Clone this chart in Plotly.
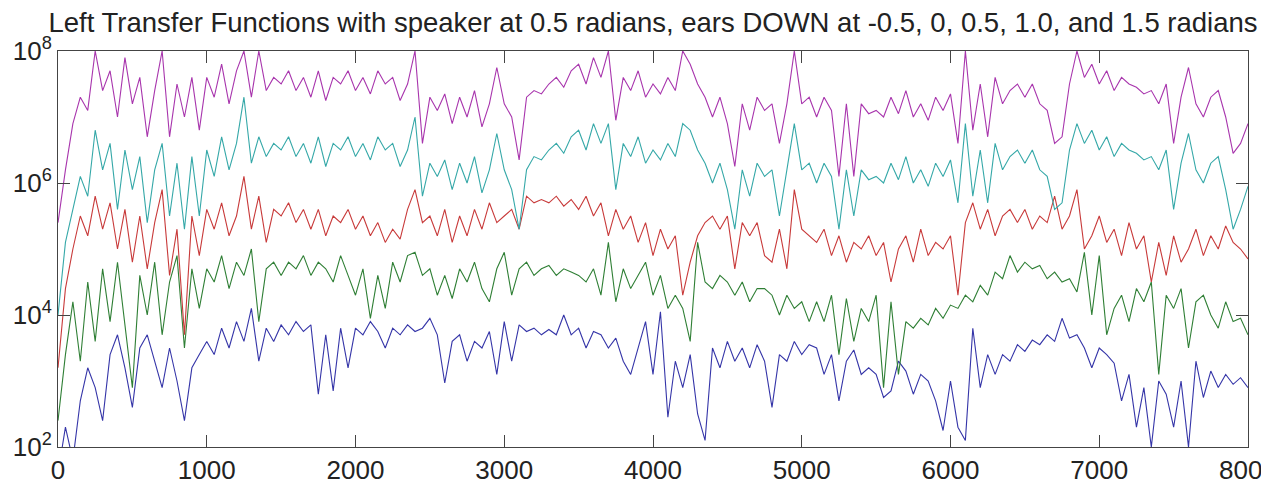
import numpy as np
import plotly.graph_objects as go

# Frequency grid (Hz), one reading every 50 Hz
freqs = list(range(0, 8001, 50))

# Magnitudes, stored as log10 values
mag_log = [5.4, 6.2, 6.9, 7.3, 7.1, 8.0, 7.4, 7.7, 7.0, 7.9,
           7.2, 7.6, 6.7, 7.4, 8.0, 6.7, 7.5, 7.0, 7.6, 6.8,
           7.6, 7.3, 7.8, 7.2, 7.7, 8.0, 7.3, 8.0, 7.4, 7.6,
           7.5, 7.7, 7.4, 7.6, 7.3, 7.7, 7.25, 7.6, 7.5, 7.7,
           7.4, 7.6, 7.35, 7.7, 7.5, 7.6, 7.25, 7.5, 8.0, 6.6,
           7.3, 7.1, 7.35, 6.9, 7.3, 7.0, 7.4, 6.85, 7.2, 7.75,
           7.2, 7.0, 6.35, 7.3, 7.4, 7.35, 7.5, 7.6, 7.45, 7.7,
           7.8, 7.5, 7.9, 7.6, 8.0, 6.95, 7.6, 7.4, 7.7, 7.3,
           7.5, 7.35, 7.6, 7.4, 8.0, 7.8, 7.5, 7.3, 7.0, 7.3,
           6.9, 6.25, 7.2, 6.8, 7.3, 7.1, 7.2, 6.6, 7.2, 8.0,
           7.2, 7.3, 7.0, 7.3, 7.1, 6.1, 7.2, 6.1, 7.2, 7.05,
           7.1, 7.0, 7.3, 7.05, 7.4, 7.0, 7.2, 6.95, 7.3, 7.1,
           7.35, 6.6, 8.0, 6.8, 7.5, 6.7, 7.6, 7.2, 7.4, 7.5,
           7.3, 7.5, 7.2, 7.1, 6.6, 6.7, 7.5, 8.0, 7.6, 7.8,
           7.5, 7.7, 7.4, 7.6, 7.5, 7.45, 7.35, 7.4, 7.2, 7.5,
           6.6, 7.3, 7.75, 7.2, 7.0, 7.3, 7.4, 7.0, 6.45, 6.6, 6.9]

cyan_log = [4.0, 5.1, 5.6, 6.1, 5.8, 6.8, 6.2, 6.6, 5.6, 6.5,
            5.9, 6.4, 5.4, 6.2, 6.6, 5.5, 6.3, 5.3, 6.4, 5.5,
            6.5, 6.1, 6.7, 6.2, 6.6, 7.3, 6.3, 6.7, 6.4, 6.6,
            6.5, 6.7, 6.4, 6.6, 6.3, 6.7, 6.25, 6.6, 6.5, 6.7,
            6.4, 6.6, 6.35, 6.7, 6.5, 6.6, 6.25, 6.5, 7.0, 5.8,
            6.3, 6.1, 6.35, 5.9, 6.3, 6.0, 6.4, 5.85, 6.2, 6.75,
            6.2, 5.9, 5.3, 6.2, 6.4, 6.35, 6.5, 6.6, 6.45, 6.7,
            6.8, 6.5, 6.9, 6.6, 6.9, 5.9, 6.6, 6.4, 6.7, 6.3,
            6.5, 6.35, 6.6, 6.4, 6.9, 6.8, 6.5, 6.3, 6.0, 6.3,
            5.9, 5.3, 6.2, 5.8, 6.3, 6.1, 6.2, 5.5, 6.2, 6.9,
            6.2, 6.3, 6.0, 6.3, 6.1, 5.3, 6.2, 5.5, 6.2, 6.05,
            6.1, 6.0, 6.3, 6.05, 6.4, 6.0, 6.2, 5.95, 6.3, 6.1,
            6.35, 5.7, 6.9, 5.8, 6.5, 5.7, 6.6, 6.2, 6.4, 6.5,
            6.3, 6.5, 6.2, 6.1, 5.6, 5.7, 6.5, 6.9, 6.6, 6.8,
            6.5, 6.7, 6.4, 6.6, 6.5, 6.45, 6.35, 6.4, 6.2, 6.5,
            5.6, 6.3, 6.75, 6.2, 6.0, 6.3, 6.4, 5.9, 5.3, 5.6, 5.95]

red_log = [3.2, 4.4, 5.0, 5.5, 5.2, 5.8, 5.3, 5.7, 5.0, 5.6,
           4.8, 5.5, 4.7, 5.4, 5.9, 4.6, 5.3, 3.7, 5.5, 4.9,
           5.6, 5.3, 5.7, 5.2, 5.5, 6.1, 5.3, 5.8, 5.1, 5.6,
           5.5, 5.7, 5.4, 5.6, 5.3, 5.6, 5.2, 5.5, 5.4, 5.6,
           5.3, 5.5, 5.2, 5.4, 5.1, 5.3, 5.15, 5.6, 5.9, 5.4,
           5.5, 5.2, 5.6, 5.1, 5.5, 5.2, 5.6, 5.3, 5.7, 5.4,
           5.5, 5.6, 5.3, 5.8, 5.7, 5.75, 5.7, 5.8, 5.65, 5.75,
           5.6, 5.8, 5.5, 5.7, 5.2, 5.6, 5.3, 5.5, 5.1, 5.4,
           4.9, 5.3, 5.0, 5.2, 4.3, 4.8, 5.2, 5.4, 5.5, 5.3,
           5.5, 4.7, 5.4, 5.2, 5.4, 4.9, 4.8, 5.3, 4.7, 5.9,
           5.3, 5.2, 5.1, 5.3, 4.9, 5.2, 4.8, 5.1, 5.0, 5.2,
           4.9, 5.1, 4.5, 5.0, 5.2, 4.8, 5.3, 4.9, 5.1, 5.0,
           5.2, 4.3, 5.4, 5.7, 5.3, 5.6, 5.2, 5.5, 5.6, 5.4,
           5.6, 5.3, 5.5, 5.4, 5.8, 5.3, 5.5, 5.9, 5.0, 5.2,
           5.5, 5.1, 5.3, 4.9, 5.4, 5.0, 5.2, 4.5, 5.1, 4.6,
           5.2, 4.8, 5.0, 5.3, 4.9, 5.2, 5.0, 5.35, 5.1, 5.0, 4.85]

green_log = [2.4, 3.4, 4.2, 3.3, 4.5, 3.6, 4.7, 3.9, 4.8, 3.8,
             2.9, 4.6, 4.0, 4.8, 3.7, 4.5, 4.9, 3.5, 4.7, 4.1,
             4.7, 4.5, 4.9, 4.4, 4.8, 4.6, 5.0, 3.9, 4.7, 4.8,
             4.6, 4.8, 4.7, 4.9, 4.6, 4.8, 4.7, 4.5, 4.9, 4.6,
             4.3, 4.7, 3.95, 4.6, 4.1, 4.8, 4.5, 4.9, 4.95, 4.6,
             4.7, 4.3, 4.6, 4.25, 4.7, 4.5, 4.8, 4.4, 4.2, 4.7,
             4.95, 4.3, 4.7, 4.8, 4.6, 4.7, 4.75, 4.6, 4.7, 4.65,
             4.6, 4.5, 4.7, 4.3, 5.1, 4.2, 4.7, 4.4, 4.6, 4.8,
             4.3, 4.6, 4.1, 4.3, 4.1, 3.6, 5.1, 4.5, 4.4, 4.6,
             4.5, 4.3, 4.5, 4.2, 4.4, 4.4, 4.3, 4.0, 4.3, 4.1,
             4.2, 3.9, 4.2, 3.9, 4.3, 3.4, 4.25, 3.6, 4.1, 3.9,
             4.3, 2.9, 4.2, 3.1, 3.9, 3.8, 3.95, 3.85, 4.1, 3.95,
             4.15, 4.1, 4.3, 4.2, 4.45, 4.3, 4.65, 4.55, 4.9, 4.65,
             4.8, 4.7, 4.75, 4.55, 4.65, 4.5, 4.55, 4.35, 4.95, 4.0,
             4.9, 3.7, 4.1, 4.3, 3.9, 4.4, 4.2, 4.5, 3.1, 4.3,
             4.1, 4.4, 3.5, 4.2, 4.3, 4.0, 3.8, 4.2, 3.9, 3.95, 3.7]

blue_log = [1.6, 2.3, 1.8, 2.7, 3.2, 2.9, 2.4, 3.4, 3.7, 3.2,
            2.6, 3.5, 3.7, 3.3, 2.9, 3.5, 3.0, 2.4, 3.2, 3.4,
            3.6, 3.4, 3.8, 3.5, 3.9, 3.6, 4.1, 3.3, 3.8, 3.6,
            3.85, 3.7, 3.9, 3.75, 3.85, 2.8, 3.7, 2.85, 3.8, 3.2,
            3.8, 3.7, 3.9, 3.75, 3.5, 3.8, 3.7, 3.85, 3.75, 3.8,
            3.95, 3.7, 2.97, 3.6, 3.7, 3.3, 3.6, 3.5, 3.75, 3.1,
            3.9, 3.3, 3.85, 3.75, 3.8, 3.7, 3.78, 3.7, 4.0, 3.7,
            3.8, 3.5, 3.75, 3.7, 3.5, 3.65, 3.3, 3.1, 3.5, 3.9,
            3.1, 4.05, 2.45, 3.3, 2.9, 3.4, 2.5, 2.1, 3.5, 3.2,
            3.6, 3.3, 3.5, 3.2, 3.55, 3.3, 2.6, 3.4, 3.3, 3.6,
            3.4, 3.55, 3.5, 3.1, 3.4, 2.7, 3.3, 3.47, 3.1, 3.2,
            3.1, 2.75, 2.85, 3.3, 3.15, 2.8, 3.1, 3.0, 2.7, 2.25,
            3.0, 2.3, 2.1, 3.8, 2.9, 3.4, 3.1, 3.4, 3.3, 3.55,
            3.45, 3.62, 3.55, 3.7, 3.6, 3.95, 3.65, 3.7, 3.5, 3.2,
            3.5, 3.4, 3.27, 2.7, 3.1, 2.3, 2.9, 2.0, 3.0, 2.8,
            2.3, 3.0, 2.0, 3.3, 2.75, 3.15, 2.9, 3.1, 2.95, 3.05, 2.9]

series = [
    ("ear -0.5", blue_log, "#3535a8"),
    ("ear 0", green_log, "#2f7f35"),
    ("ear 0.5", red_log, "#c83a3a"),
    ("ear 1.0", cyan_log, "#35a8a8"),
    ("ear 1.5", mag_log, "#a835ad"),
]

ytick_vals = [1e2, 1e4, 1e6, 1e8]
ytick_text = ["10<sup>2</sup>", "10<sup>4</sup>", "10<sup>6</sup>", "10<sup>8</sup>"]
xtick_vals = [0, 1000, 2000, 3000, 4000, 5000, 6000, 7000, 8000]

fig = go.Figure()
for name, vals, color in series:
    fig.add_trace(go.Scatter(
        x=freqs, y=np.power(10.0, np.array(vals)), mode="lines", name=name,
        line=dict(color=color, width=1.1), showlegend=False,
    ))

axis_common = dict(
    showline=True, linecolor="#444444", linewidth=1, mirror="ticks",
    ticks="inside", ticklen=12, tickcolor="#444444", showgrid=False,
    zeroline=False, ticklabeloverflow="allow",
    tickfont=dict(family="Liberation Sans, Arial", size=26, color="#222222"),
)

fig.update_layout(
    width=1261, height=486,
    margin=dict(l=58, r=13, t=51, b=39, autoexpand=False),
    paper_bgcolor="white", plot_bgcolor="white",
    title=dict(
        text="Left Transfer Functions with speaker at 0.5 radians, ears DOWN at -0.5, 0, 0.5, 1.0, and 1.5 radians",
        x=0.5, xref="paper", y=0.953, yref="container", yanchor="middle", xanchor="center",
        font=dict(family="Liberation Sans, Arial", size=27.5, color="#222222"),
    ),
    xaxis=dict(range=[0, 8000], tickvals=xtick_vals, **axis_common),
    yaxis=dict(type="log", range=[2, 8], tickvals=ytick_vals, ticktext=ytick_text, **axis_common),
)

fig.write_html("out.html")
